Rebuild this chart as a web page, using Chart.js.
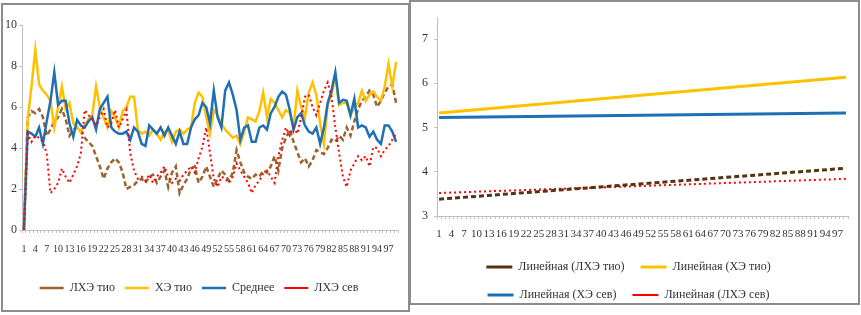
<!DOCTYPE html>
<html>
<head>
<meta charset="utf-8">
<script src="https://cdn.jsdelivr.net/npm/chart.js@4.4.1/dist/chart.umd.min.js"></script>
<style>
  body { margin: 0; background: #fff; width: 861px; height: 315px; overflow: hidden; position: relative; }
  canvas { position: absolute; top: 0; }
  .frame { position: absolute; box-sizing: border-box; border: 2px solid #8c8c8c; pointer-events: none; }
</style>
</head>
<body>
<canvas id="left" width="409" height="315" style="left:0"></canvas>
<canvas id="right" width="452" height="315" style="left:409px"></canvas>
<div class="frame" style="left:1px;top:3px;width:409px;height:309px"></div>
<div class="frame" style="left:409px;top:0;width:451px;height:305px"></div>
<script>
// x categories 1..99 (every third one is labelled)
const categories = [];
for (let i = 1; i <= 99; i++) categories.push(String(i));

const seriesNames = ['ЛХЭ тио', 'ХЭ тио', 'Среднее', 'ЛХЭ сев'];

const lheTio = [0,5.5,5.8,5.7,5.9,5.5,4.6,4.9,5.3,5.5, 5.9,5.4,4.6,4.9,5.0,4.8,4.5,4.3,4.1,3.6,
  3.1,2.5,3.0,3.3,3.5,3.3,2.8,2.0,2.1,2.2, 2.4,2.5,2.3,2.6,2.7,2.3,2.6,2.9,2.1,2.8,
  3.1,1.8,2.2,2.5,3.0,3.1,2.3,2.6,3.1,2.6, 2.1,2.5,2.9,2.7,2.4,2.8,3.9,3.3,2.8,
  2.6,2.5,2.7,2.6,2.9,2.8,3.1,3.6,2.9,4.0, 4.5,4.9,4.3,3.8,3.3,3.5,3.1,3.4,3.9,3.8,
  3.7,4.0,4.4,4.3,4.6,4.4,5.0,4.6,5.3,5.9, 6.3,6.5,6.8,6.6,6.0,6.3,6.7,7.0,7.1,6.2];

const heTio = [0,5.4,7.0,8.8,7.1,6.8,6.6,6.3,5.0,6.0, 7.0,5.9,6.2,5.2,5.0,4.8,5.1,5.4,5.6,7.0,
  6.0,5.5,5.0,5.8,5.5,5.0,5.8,6.0,6.5,6.5, 4.9,4.7,4.8,4.6,4.9,4.7,4.4,4.8,4.9,4.3,
  4.8,4.9,4.7,4.9,5.0,6.2,6.7,6.5,5.5,4.7, 5.85,5.6,5.2,4.9,4.7,4.5,4.6,4.2,4.8,
  5.5,5.4,5.3,5.8,6.7,5.5,6.4,6.2,5.85,5.5, 5.85,5.7,5.0,6.8,6.0,5.5,6.7,7.2,6.6,5.2,
  4.2,6.1,6.6,7.5,6.1,6.2,6.2,5.6,6.0,6.2, 6.8,6.3,6.6,6.75,6.5,6.3,7.0,8.1,7.0,8.2];

const average = [0,4.8,4.7,4.55,5.0,4.2,5.3,6.3,7.7,6.1, 6.3,6.3,5.2,4.55,5.37,5.1,5.0,5.3,5.5,4.9,
  5.9,6.2,6.5,5.0,4.8,4.7,4.7,4.8,4.4,5.0, 4.8,4.2,4.1,5.1,4.9,4.7,5.0,4.6,5.0,4.6,
  4.2,4.8,4.2,4.2,5.0,5.4,5.6,6.2,6.0,5.2, 6.8,5.5,5.0,6.8,7.2,6.6,5.85,4.4,5.0,
  5.1,4.3,4.3,5.0,5.1,4.9,5.7,6.0,6.5,6.75, 6.6,5.85,4.9,5.5,5.7,5.1,4.8,4.7,5.0,4.2,
  5.0,6.2,6.8,7.7,6.2,6.35,6.3,5.6,6.4,5.0, 5.1,5.0,4.55,4.8,4.4,4.2,5.1,5.1,4.8,4.3];

const lheSev = [0,4.7,4.3,4.6,4.5,4.3,3.75,1.8,2.0,2.3, 3.0,2.6,2.3,2.7,3.1,3.75,5.85,5.6,5.4,5.1,
  5.5,5.9,5.0,5.2,5.85,5.0,5.4,5.85,3.75,2.9, 2.5,2.6,2.4,2.7,2.3,2.6,2.8,3.1,2.6,2.3,
  2.5,2.4,2.7,2.9,3.1,2.8,3.5,4.05,5.0,3.75, 2.5,2.1,2.6,2.5,2.3,2.6,3.25,2.9,2.6,
  2.3,1.8,2.2,2.4,2.75,2.9,2.6,2.3,3.6,4.4, 5.0,4.6,5.0,4.7,5.5,6.5,6.6,6.0,5.6,6.2,
  6.8,7.2,6.5,5.0,3.75,2.6,2.1,2.9,3.25,3.6, 3.4,3.6,3.1,4.05,4.0,3.6,3.9,4.1,4.4,4.7];

// linear trend lines: value at the first and at the last category
const trendNames = ['Линейная (ЛХЭ тио)', 'Линейная (ХЭ тио)', 'Линейная (ХЭ сев)', 'Линейная (ЛХЭ сев)'];
const trendStart = [3.38, 5.33, 5.23, 3.52];
const trendEnd = [4.08, 6.14, 5.33, 3.84];

Chart.defaults.font.family = '"Liberation Serif", "Times New Roman", serif';
Chart.defaults.font.size = 12;
Chart.defaults.color = '#333';
Chart.defaults.animation = false;

const axisGray = '#bfbfbf';

function categoryAxis(labelPad, height, fontSize) {
    return {
        type: 'category',
        offset: true,
        grid: { offset: true, drawOnChartArea: false, drawTicks: true, tickLength: 3, color: axisGray },
        border: { color: axisGray },
        ticks: {
            autoSkip: false, maxRotation: 0, minRotation: 0, padding: labelPad,
            font: { size: fontSize },
            callback: function (value, index) {
                return index % 3 === 0 ? this.getLabelForValue(value) : '';
            }
        },
        afterFit: function (scale) { scale.height = height; }
    };
}

function lineLegend(sampleWidth, pad) {
    return {
        position: 'bottom',
        labels: {
            usePointStyle: true, pointStyle: 'line', pointStyleWidth: sampleWidth, padding: pad, color: '#333',
            sort: (a, b) => a.datasetIndex - b.datasetIndex
        }
    };
}

function series(label, data, color, width, dash, order) {
    return {
        label: label, data: data, borderColor: color, backgroundColor: color,
        borderWidth: width, borderDash: dash, pointRadius: 0, tension: 0, fill: false, order: order
    };
}

new Chart(document.getElementById('left'), {
    type: 'line',
    data: {
        labels: categories,
        datasets: [
            series(seriesNames[0], lheTio, '#9a6430', 2.5, [5, 3], 3),
            series(seriesNames[1], heTio, '#ffc000', 2.5, [], 2),
            series(seriesNames[2], average, '#1f6fb5', 2.5, [], 1),
            series(seriesNames[3], lheSev, '#ff0000', 2, [2, 3], 0)
        ]
    },
    options: {
        responsive: false,
        layout: { padding: { left: 0, right: 11, top: 25, bottom: 11 } },
        plugins: { legend: lineLegend(24, 10), tooltip: { enabled: false } },
        scales: {
            x: categoryAxis(10, 42, 10),
            y: {
                min: 0, max: 10,
                ticks: { stepSize: 2, padding: 2 },
                grid: { drawOnChartArea: false, drawTicks: true, tickLength: 3, color: axisGray },
                border: { color: axisGray },
                afterFit: function (scale) { scale.width = 22; }
            }
        }
    }
});

const trendColors = ['#553311', '#ffc000', '#1f6fb5', '#ff0000'];
const trendDash = [[5, 3], [], [], [2, 3]];
const trendWidth = [3, 3, 3, 2];

new Chart(document.getElementById('right'), {
    type: 'line',
    data: {
        labels: categories,
        datasets: trendNames.map((name, k) => series(name, [
            { x: categories[0], y: trendStart[k] },
            { x: categories[categories.length - 1], y: trendEnd[k] }
        ], trendColors[k], trendWidth[k], trendDash[k], k))
    },
    options: {
        responsive: false,
        layout: { padding: { left: 0, right: 13, top: 17, bottom: 4 } },
        plugins: { legend: lineLegend(26, 16), tooltip: { enabled: false } },
        scales: {
            x: categoryAxis(9, 29, 11),
            y: {
                min: 3, max: 7.5,
                ticks: { stepSize: 1, padding: 6 },
                grid: { drawOnChartArea: false, drawTicks: true, tickLength: 3, color: axisGray },
                border: { color: axisGray },
                afterBuildTicks: function (scale) {
                    scale.ticks = scale.ticks.filter(t => Number.isInteger(t.value));
                },
                afterFit: function (scale) { scale.width = 28; }
            }
        }
    }
});
</script>
</body>
</html>
